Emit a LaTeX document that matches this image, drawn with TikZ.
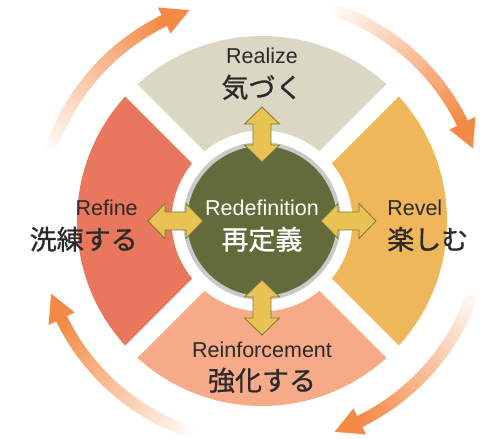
\documentclass[tikz,border=0pt]{standalone}
\usepackage{fontspec}
\setmainfont{Liberation Sans}
\newfontfamily\jpfont{Noto Sans CJK JP}[FakeBold=0.9]
\usetikzlibrary{positioning}

\definecolor{realizec}{HTML}{DAD7C4}
\definecolor{revelc}{HTML}{F0B65A}
\definecolor{reinfc}{HTML}{F7AA88}
\definecolor{refinec}{HTML}{E9775D}
\definecolor{corec}{HTML}{636B3A}
\definecolor{ringc}{HTML}{C9C9C9}
\definecolor{linkc}{HTML}{E8C353}
\definecolor{linkedge}{HTML}{7B7A3A}
\definecolor{cyclec}{HTML}{F48A45}
\definecolor{labelc}{HTML}{2A2A2A}

\begin{document}
\begin{tikzpicture}[
    x=0.025cm, y=0.025cm,
    en/.style={font=\fontsize{15.3}{18}\selectfont, text=labelc, inner sep=0},
    jp/.style={font=\jpfont\fontsize{19.2}{22}\selectfont, text=labelc, inner sep=0},
    link/.style={fill=linkc, draw=linkedge, line width=0.6pt, line join=miter}
]
    \useasboundingbox (-262,-218) rectangle (231,221);

    % cycle arrows, fading in from the tail
    \foreach \d in {45,135,225,315} {
        \foreach \i in {0,...,46} {
            \pgfmathsetmacro\a{\d+28-\i}
            \pgfmathsetmacro\b{\d+26.8-\i}
            \pgfmathsetmacro\p{100*\i/46}
            \draw[cyclec!\p!white, line width=0.3cm] (\a:223) arc[start angle=\a, end angle=\b, radius=223];
        }
        \pgfmathsetmacro\h{\d-19}
        \pgfmathsetmacro\t{\d-26}
        \fill[cyclec] (\h:208.5) -- (\t:223) -- (\h:237.5) -- cycle;
    }

    % the four stages
    \foreach \s/\c in {45/realizec, 135/refinec, 225/reinfc, 315/revelc} {
        \pgfmathsetmacro\e{\s+90}
        \fill[\c] (\s:185) arc[start angle=\s, end angle=\e, radius=185] -- (\e:90.5) arc[start angle=\e, end angle=\s, radius=90.5] -- cycle;
    }
    \foreach \s in {45,135,225,315}
        \draw[white, line width=0.425cm] (\s:80) -- (\s:195);

    \node[circle, fill=corec, draw=ringc, line width=0.1cm, minimum size=3.85cm, inner sep=0] (core) at (0,0) {};

    \foreach \r in {0,90,180,270}
        \draw[link, rotate=\r] (59,0) -- (76,17.5) -- (76,9) -- (97,9) -- (97,17.5) -- (114,0) -- (97,-17.5) -- (97,-9) -- (76,-9) -- (76,-17.5) -- cycle;

    \node[en, anchor=base, text=white] (redef) at (0,5) {Redefinition};
    \node[jp, anchor=base, text=white] (redefjp) at (0,-28.5) {再定義};
    \node[en, anchor=base] (realize) at (0,157) {Realize};
    \node[jp, anchor=base] (realizejp) at (0,123.5) {気づく};
    \node[en, anchor=base west] (revel) at (125,5) {Revel};
    \node[jp, anchor=base west] (reveljp) at (125,-28.5) {楽しむ};
    \node[en, anchor=base] (reinf) at (0,-137) {Reinforcement};
    \node[jp, anchor=base] (reinfjp) at (0,-169.5) {強化する};
    \node[en, anchor=base east] (refine) at (-124,5) {Refine};
    \node[jp, anchor=base east] (refinejp) at (-124,-28.5) {洗練する};
\end{tikzpicture}
\end{document}
